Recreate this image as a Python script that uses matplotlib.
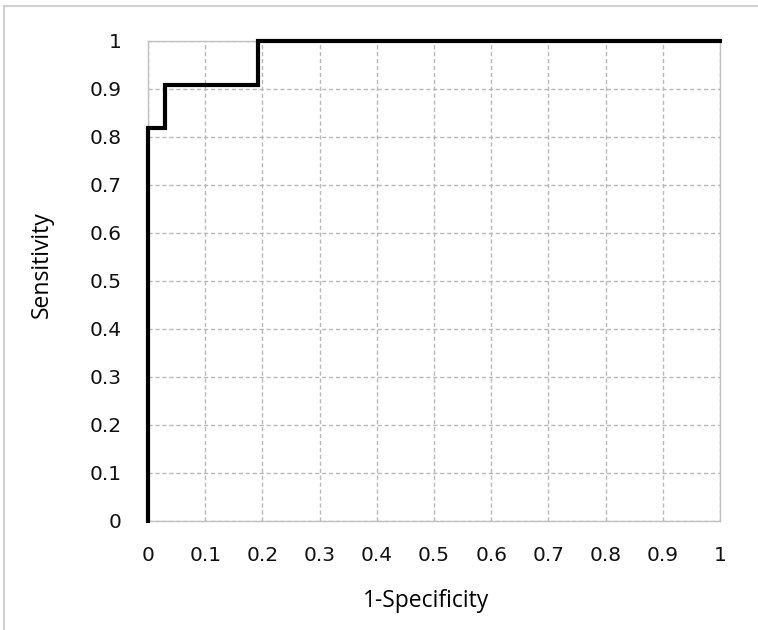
import matplotlib.pyplot as plt
from matplotlib.lines import Line2D
import numpy as np

# ROC curve points (1-specificity, sensitivity)
fpr = [0.0, 0.0, 0.03, 0.03, 0.192, 0.192, 1.0]
tpr = [0.0, 0.818, 0.818, 0.909, 0.909, 1.0, 1.0]

xticks = np.round(np.arange(0, 1.01, 0.1), 1)
yticks = np.round(np.arange(0, 1.01, 0.1), 1)

plt.rcParams['font.family'] = ['DejaVu Sans']

W, H = 758, 630
fig = plt.figure(figsize=(W / 100, H / 100), dpi=100)
ax = fig.add_axes([148 / W, 1 - 521 / H, (720 - 148) / W, (521 - 41) / H])

ax.plot(fpr, tpr, color='black', lw=3, solid_joinstyle='miter', clip_on=False, zorder=3)

ax.set_xlim(0, 1)
ax.set_ylim(0, 1)
ax.set_xticks(xticks)
ax.set_yticks(yticks)
ax.set_xticklabels([f'{v:g}' for v in xticks])
ax.set_yticklabels([f'{v:g}' for v in yticks])
ax.tick_params(length=0, labelsize=14.5, colors='#111111')
ax.tick_params(axis='x', pad=18)
ax.tick_params(axis='y', pad=19)

ax.grid(True, color='#b8b8b8', linestyle=(0, (3, 2)), lw=1)
for s in ax.spines.values():
    s.set_color('#c0c0c0')
    s.set_linewidth(1)

ax.set_xlabel('1-Specificity', fontsize=16.5, family=['Open Sans', 'DejaVu Sans'], va='center')
ax.set_ylabel('Sensitivity', fontsize=16.5, family=['Open Sans', 'DejaVu Sans'], va='center')
ax.xaxis.set_label_coords((426 - 148) / 572, -(601 - 521) / 480)
ax.yaxis.set_label_coords(-(148 - 42) / 572, (521 - 265) / 480)

# outer chart border (only left and top edges fall inside the image)
fig.lines.append(Line2D([4 / W, 4 / W], [0, 1 - 6 / H], transform=fig.transFigure,
                        color='#d0d0d0', lw=1.5))
fig.lines.append(Line2D([4 / W, 1], [1 - 6 / H, 1 - 6 / H], transform=fig.transFigure,
                        color='#d0d0d0', lw=1.5))

fig.savefig('out.png', dpi=100)
